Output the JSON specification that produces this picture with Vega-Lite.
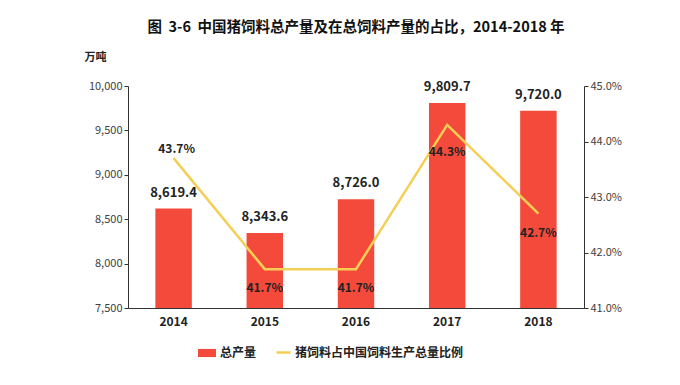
{
  "$schema": "https://vega.github.io/schema/vega-lite/v6.json",
  "width": 456,
  "height": 222,
  "autosize": "none",
  "padding": {"left": 128, "top": 86, "right": 96, "bottom": 77},
  "background": "white",
  "config": {
    "font": "Noto Sans CJK SC",
    "view": {"stroke": null},
    "axis": {"labelFont": "Noto Sans CJK SC", "titleFont": "Noto Sans CJK SC", "domainColor": "#333", "tickColor": "#333", "labelColor": "#404040", "grid": false}
  },
  "title": {"text": "图\u00a0\u00a03-6\u00a0\u00a0中国猪饲料总产量及在总饲料产量的占比，2014-2018\u00a0年", "fontSize": 14.5, "fontWeight": "bold", "color": "#111", "anchor": "middle", "offset": 16, "font": "Noto Sans CJK SC"},
  "data": {"values": [
    {"year": "2014", "output": 8619.4, "share": 0.437},
    {"year": "2015", "output": 8343.6, "share": 0.417},
    {"year": "2016", "output": 8726.0, "share": 0.417},
    {"year": "2017", "output": 9809.7, "share": 0.443},
    {"year": "2018", "output": 9720.0, "share": 0.427}
  ]},
  "encoding": {
    "x": {"field": "year", "type": "nominal", "scale": {"paddingInner": 0.6, "paddingOuter": 0.3}, "axis": {"title": null, "labelAngle": 0, "labelFontSize": 12, "labelFontWeight": "bold", "labelColor": "#222", "ticks": false, "labelPadding": 8, "domainColor": "#333"}}
  },
  "layer": [
    {
      "layer": [
        {
          "mark": {"type": "bar", "color": "#F44A3B", "clip": true},
          "encoding": {
            "y": {"field": "output", "type": "quantitative", "scale": {"domain": [7500, 10000], "zero": false, "nice": false}, "axis": {"format": ",.0f", "values": [7500, 8000, 8500, 9000, 9500, 10000], "labelOverlap": false, "labelFontSize": 11, "title": "万吨", "titleAngle": 0, "titleFontSize": 11, "titleFontWeight": "bold", "titleColor": "#222", "titleX": -33, "titleY": -24, "titleAlign": "center", "tickSize": 4}},
            "color": {"datum": "总产量", "type": "nominal", "scale": {"range": ["#F44A3B"]}, "legend": {"orient": "none", "legendX": 70, "legendY": 258, "title": null, "symbolType": "M-1,-0.45H1V0.45H-1Z", "symbolSize": 324, "symbolStrokeWidth": 0, "labelOffset": 4, "labelFontSize": 12, "labelFontWeight": "bold", "labelColor": "#222", "labelLimit": 0}}
          }
        },
        {
          "mark": {"type": "text", "dy": -16, "fontSize": 13, "fontWeight": "bold", "color": "#222"},
          "encoding": {
            "y": {"field": "output", "type": "quantitative"},
            "text": {"field": "output", "type": "quantitative", "format": ",.1f"}
          }
        }
      ]
    },
    {
      "layer": [
        {
          "mark": {"type": "line", "color": "#F5CF55", "strokeWidth": 2.5},
          "encoding": {
            "y": {"field": "share", "type": "quantitative", "scale": {"domain": [0.41, 0.45], "zero": false, "nice": false}, "axis": {"orient": "right", "format": ".1%", "values": [0.41, 0.42, 0.43, 0.44, 0.45], "labelOverlap": false, "labelFontSize": 11, "title": null, "tickSize": 4}},
            "color": {"datum": "猪饲料占中国饲料生产总量比例", "type": "nominal", "scale": {"range": ["#F5CF55"]}, "legend": {"orient": "none", "legendX": 147, "legendY": 258, "title": null, "symbolType": "stroke", "symbolStrokeWidth": 2.5, "symbolSize": 196, "labelOffset": 3, "labelFontSize": 12, "labelFontWeight": "bold", "labelColor": "#222", "labelLimit": 0}}
          }
        },
        {
          "transform": [{"filter": "datum.year == '2014'"}],
          "mark": {"type": "text", "dy": -9, "dx": 3, "fontSize": 12, "fontWeight": "bold", "color": "#222"},
          "encoding": {
            "y": {"field": "share", "type": "quantitative"},
            "text": {"field": "share", "type": "quantitative", "format": ".1%"}
          }
        },
        {
          "transform": [{"filter": "datum.year == '2017'"}],
          "mark": {"type": "text", "dy": 27, "fontSize": 12, "fontWeight": "bold", "color": "#222"},
          "encoding": {
            "y": {"field": "share", "type": "quantitative"},
            "text": {"field": "share", "type": "quantitative", "format": ".1%"}
          }
        },
        {
          "transform": [{"filter": "datum.year != '2014' && datum.year != '2017'"}],
          "mark": {"type": "text", "dy": 19, "fontSize": 12, "fontWeight": "bold", "color": "#222"},
          "encoding": {
            "y": {"field": "share", "type": "quantitative"},
            "text": {"field": "share", "type": "quantitative", "format": ".1%"}
          }
        }
      ]
    }
  ],
  "resolve": {"scale": {"y": "independent", "color": "independent"}}
}
